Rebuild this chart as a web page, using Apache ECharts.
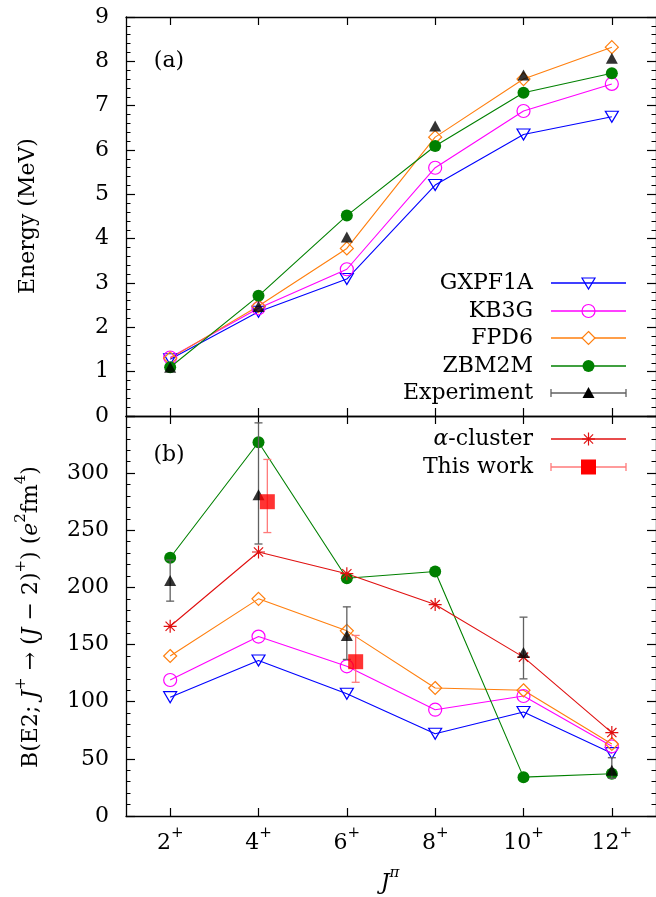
<!DOCTYPE html>
<html>
<head>
<meta charset="utf-8">
<script src="https://cdn.jsdelivr.net/npm/echarts@6/dist/echarts.min.js"></script>
<style>
  html, body { margin: 0; padding: 0; background: #fff; }
  #chart { width: 656px; height: 897px; }
</style>
</head>
<body>
<div id="chart"></div>
<script>
// Spin values J (x positions) and their tick labels
var spins = [2, 4, 6, 8, 10, 12];
var spinLabels = ['2', '4', '6', '8', '10', '12'];

// (a) excitation energies in MeV
var energyGXPF1A = [1.28, 2.35, 3.09, 5.21, 6.35, 6.75];
var energyKB3G   = [1.32, 2.43, 3.31, 5.60, 6.88, 7.49];
var energyFPD6   = [1.30, 2.48, 3.78, 6.29, 7.60, 8.32];
var energyZBM2M  = [1.10, 2.71, 4.52, 6.09, 7.29, 7.73];
var energyExp    = [1.10, 2.47, 4.04, 6.54, 7.69, 8.07];

// (b) B(E2) values in e^2 fm^4
var be2GXPF1A = [104, 136, 107, 72, 91, 55];
var be2KB3G   = [119, 157, 131, 93, 105, 61];
var be2FPD6   = [140, 190, 162, 112, 110, 63];
var be2ZBM2M  = [226, 327, 208, 214, 34, 37];
var be2Alpha  = [166, 231, 212, 185, 139, 73];

// measured B(E2) with error ranges
var expSpins = [2, 4, 6, 10, 12];
var be2Exp     = [206, 281, 158, 143, 40];
var be2ExpLow  = [188, 238, 137, 120, 33];
var be2ExpHigh = [224, 344, 183, 174, 51];

// present results (drawn slightly to the right of their spin)
var workSpins = [4.2, 6.2];
var be2Work     = [275, 135];
var be2WorkLow  = [248, 117];
var be2WorkHigh = [312, 158];

var FONT = 'DejaVu Serif';
var FS = 22;
var C_BLUE = '#0000ff', C_MAG = '#ff00ff', C_ORG = '#ff7f0e', C_GRN = '#008000';
var C_RED = '#e01010', C_WORK = '#ff0000', C_WORKBAR = '#ff7a7a', C_EXPBAR = '#606060';

var STAR = 'path://M0,-1L0,1M-1,0L1,0M-0.71,-0.71L0.71,0.71M-0.71,0.71L0.71,-0.71';

function pairs(xs, ys) { return xs.map(function (x, i) { return [x, ys[i]]; }); }
function errData(xs, v, lo, hi) { return xs.map(function (x, i) { return [x, v[i], lo[i], hi[i]]; }); }

function errorBars(color, xi, yi, data) {
  return {
    type: 'custom', xAxisIndex: xi, yAxisIndex: yi, data: data, z: 3,
    renderItem: function (params, api) {
      var x = api.value(0);
      var top = api.coord([x, api.value(3)]);
      var bot = api.coord([x, api.value(2)]);
      var st = { stroke: color, lineWidth: 1.3 };
      var c = 4;
      return {
        type: 'group', children: [
          { type: 'line', shape: { x1: top[0], y1: top[1], x2: bot[0], y2: bot[1] }, style: st },
          { type: 'line', shape: { x1: top[0] - c, y1: top[1], x2: top[0] + c, y2: top[1] }, style: st },
          { type: 'line', shape: { x1: bot[0] - c, y1: bot[1], x2: bot[0] + c, y2: bot[1] }, style: st }
        ]
      };
    }
  };
}

function lineSeries(name, xi, yi, ys, color, symbol, size, filled, rotate) {
  return {
    name: name, type: 'line', xAxisIndex: xi, yAxisIndex: yi,
    data: pairs(spins, ys), symbol: symbol, symbolSize: size, symbolRotate: rotate || 0,
    showAllSymbol: true, z: 2,
    lineStyle: { color: color, width: 1.1 },
    itemStyle: filled ? { color: color, borderWidth: 0 } :
      { color: 'rgba(255,255,255,0)', borderColor: color, borderWidth: 1.2 },
    emphasis: { disabled: true }
  };
}

function xAxisDef(grid, pos, labels) {
  return {
    type: 'value', gridIndex: grid, position: pos, min: 1, max: 13,
    axisLine: { show: true, onZero: false, lineStyle: { color: '#000', width: 1.3 } },
    axisTick: { show: true, inside: true, length: 8, customValues: spins, lineStyle: { color: '#000', width: 1.2 } },
    axisLabel: labels ? {
      show: true, margin: 10, customValues: spins,
      formatter: function (v) { return '{n|' + spinLabels[spins.indexOf(v)] + '}{s|+}'; },
      rich: {
        n: { fontFamily: FONT, fontSize: FS, color: '#000', lineHeight: 28, verticalAlign: 'bottom' },
        s: { fontFamily: FONT, fontSize: 15, color: '#000', lineHeight: 15, verticalAlign: 'top' }
      }
    } : { show: false },
    splitLine: { show: false }
  };
}

function yAxisDef(grid, pos, min, max, interval, labels) {
  return {
    type: 'value', gridIndex: grid, position: pos, min: min, max: max, interval: interval,
    axisLine: { show: true, onZero: false, lineStyle: { color: '#000', width: 1.3 } },
    axisTick: { show: true, inside: true, length: 9, lineStyle: { color: '#000', width: 1.2 } },
    minorTick: { show: true, splitNumber: 5, length: 4.5, lineStyle: { color: '#000', width: 1 } },
    axisLabel: labels ? { show: true, margin: 17, showMaxLabel: grid === 0, fontFamily: FONT, fontSize: FS, color: '#000' } : { show: false },
    splitLine: { show: false }, minorSplitLine: { show: false }
  };
}

// Legend keys drawn as graphics
var legendRows = [
  { text: 'GXPF1A', y: 283, color: C_BLUE, mark: 'dtri' },
  { text: 'KB3G', y: 311, color: C_MAG, mark: 'circle' },
  { text: 'FPD6', y: 338, color: C_ORG, mark: 'diamond' },
  { text: 'ZBM2M', y: 366, color: C_GRN, mark: 'dot' },
  { text: 'Experiment', y: 393, color: C_EXPBAR, mark: 'utri', bar: true },
  { text: '{i|α}-cluster', y: 439, color: C_RED, mark: 'star' },
  { text: 'This work', y: 467, color: C_WORKBAR, mark: 'square', bar: true }
];
var LX0 = 551, LX1 = 626, LXM = 588.5, LTX = 533;

function legendMark(row) {
  var x = LXM, y = row.y, out = [];
  if (row.mark === 'dtri') out.push({ type: 'polygon', shape: { points: [[x - 6.5, y - 5], [x + 6.5, y - 5], [x, y + 6]] }, style: { fill: null, stroke: C_BLUE, lineWidth: 1.2 } });
  if (row.mark === 'circle') out.push({ type: 'circle', shape: { cx: x, cy: y, r: 6.5 }, style: { fill: null, stroke: C_MAG, lineWidth: 1.2 } });
  if (row.mark === 'diamond') out.push({ type: 'polygon', shape: { points: [[x, y - 6.5], [x + 6.5, y], [x, y + 6.5], [x - 6.5, y]] }, style: { fill: '#fff', stroke: C_ORG, lineWidth: 1.2 } });
  if (row.mark === 'dot') out.push({ type: 'circle', shape: { cx: x, cy: y, r: 6 }, style: { fill: C_GRN } });
  if (row.mark === 'utri') out.push({ type: 'polygon', shape: { points: [[x - 6, y + 5], [x + 6, y + 5], [x, y - 6]] }, style: { fill: '#000' } });
  if (row.mark === 'star') {
    var s = 6.5, d = 4.6, st = { stroke: C_RED, lineWidth: 1.2 };
    out.push({ type: 'line', shape: { x1: x, y1: y - s, x2: x, y2: y + s }, style: st });
    out.push({ type: 'line', shape: { x1: x - s, y1: y, x2: x + s, y2: y }, style: st });
    out.push({ type: 'line', shape: { x1: x - d, y1: y - d, x2: x + d, y2: y + d }, style: st });
    out.push({ type: 'line', shape: { x1: x - d, y1: y + d, x2: x + d, y2: y - d }, style: st });
  }
  if (row.mark === 'square') out.push({ type: 'rect', shape: { x: x - 7.5, y: y - 7.5, width: 15, height: 15 }, style: { fill: C_WORK } });
  return out;
}

var graphics = [];
legendRows.forEach(function (row) {
  graphics.push({
    type: 'text', x: LTX, y: row.y,
    style: {
      text: row.text, fontFamily: FONT, fontSize: FS, fill: '#000', align: 'right', verticalAlign: 'middle',
      rich: { i: { fontFamily: FONT, fontSize: FS, fontStyle: 'italic', fill: '#000' } }
    }
  });
  var ls = { stroke: row.color, lineWidth: 1.3 };
  graphics.push({ type: 'line', shape: { x1: LX0, y1: row.y, x2: LX1, y2: row.y }, style: ls });
  if (row.bar) {
    graphics.push({ type: 'line', shape: { x1: LX0, y1: row.y - 4, x2: LX0, y2: row.y + 4 }, style: ls });
    graphics.push({ type: 'line', shape: { x1: LX1, y1: row.y - 4, x2: LX1, y2: row.y + 4 }, style: ls });
  }
  graphics = graphics.concat(legendMark(row));
});

// panel tags
graphics.push({ type: 'text', x: 169, y: 61, style: { text: '(a)', fontFamily: FONT, fontSize: FS, fill: '#000', align: 'center', verticalAlign: 'middle' } });
graphics.push({ type: 'text', x: 169, y: 455, style: { text: '(b)', fontFamily: FONT, fontSize: FS, fill: '#000', align: 'center', verticalAlign: 'middle' } });

// axis titles
graphics.push({ type: 'text', x: 28, y: 216, rotation: Math.PI / 2,
  style: { text: 'Energy (MeV)', fontFamily: FONT, fontSize: FS, fill: '#000', align: 'center', verticalAlign: 'middle' } });
graphics.push({ type: 'text', x: 28, y: 617, rotation: Math.PI / 2,
  style: {
    text: '{r|B(E2; }{i|J}{s|+}{r| → (}{i|J}{r| − 2)}{s|+}{r|) (}{i|e}{s|2}{r|fm}{s|4}{r|)}',
    align: 'center', verticalAlign: 'middle',
    rich: {
      r: { fontFamily: FONT, fontSize: FS, fill: '#000', lineHeight: 28, verticalAlign: 'bottom' },
      i: { fontFamily: FONT, fontSize: FS, fontStyle: 'italic', fill: '#000', lineHeight: 28, verticalAlign: 'bottom' },
      s: { fontFamily: FONT, fontSize: 15, fill: '#000', lineHeight: 15, verticalAlign: 'top' }
    }
  } });
graphics.push({ type: 'text', x: 390, y: 880,
  style: {
    text: '{i|J}{s|π}', align: 'center', verticalAlign: 'middle',
    rich: {
      i: { fontFamily: FONT, fontSize: FS, fontStyle: 'italic', fill: '#000', lineHeight: 28, verticalAlign: 'bottom' },
      s: { fontFamily: FONT, fontSize: 15, fontStyle: 'italic', fill: '#000', lineHeight: 15, verticalAlign: 'top' }
    }
  } });

var option = {
  animation: false,
  backgroundColor: '#fff',
  grid: [
    { left: 126, top: 17, width: 532.5, height: 399 },
    { left: 126, top: 416, width: 532.5, height: 400 }
  ],
  xAxis: [
    xAxisDef(0, 'bottom', false),
    xAxisDef(0, 'top', false),
    xAxisDef(1, 'bottom', true),
    xAxisDef(1, 'top', false)
  ],
  yAxis: [
    yAxisDef(0, 'left', 0, 9, 1, true),
    yAxisDef(0, 'right', 0, 9, 1, false),
    yAxisDef(1, 'left', 0, 350, 50, true),
    yAxisDef(1, 'right', 0, 350, 50, false)
  ],
  graphic: graphics,
  series: [
    lineSeries('GXPF1A', 0, 0, energyGXPF1A, C_BLUE, 'triangle', [13, 11], false, 180),
    lineSeries('KB3G', 0, 0, energyKB3G, C_MAG, 'circle', 13, false),
    lineSeries('FPD6', 0, 0, energyFPD6, C_ORG, 'diamond', [13, 13], false),
    lineSeries('ZBM2M', 0, 0, energyZBM2M, C_GRN, 'circle', 12, true),
    { name: 'Experiment', type: 'scatter', xAxisIndex: 0, yAxisIndex: 0, data: pairs(spins, energyExp),
      symbol: 'triangle', symbolSize: [12, 11], itemStyle: { color: '#000' }, z: 4 },

    lineSeries('GXPF1A', 2, 2, be2GXPF1A, C_BLUE, 'triangle', [13, 11], false, 180),
    lineSeries('KB3G', 2, 2, be2KB3G, C_MAG, 'circle', 13, false),
    lineSeries('FPD6', 2, 2, be2FPD6, C_ORG, 'diamond', [13, 13], false),
    lineSeries('ZBM2M', 2, 2, be2ZBM2M, C_GRN, 'circle', 12, true),
    lineSeries('α-cluster', 2, 2, be2Alpha, C_RED, STAR, 13, false),
    errorBars(C_EXPBAR, 2, 2, errData(expSpins, be2Exp, be2ExpLow, be2ExpHigh)),
    { name: 'Experiment', type: 'scatter', xAxisIndex: 2, yAxisIndex: 2, data: pairs(expSpins, be2Exp),
      symbol: 'triangle', symbolSize: [12, 11], itemStyle: { color: '#000' }, z: 4 },
    errorBars(C_WORKBAR, 2, 2, errData(workSpins, be2Work, be2WorkLow, be2WorkHigh)),
    { name: 'This work', type: 'scatter', xAxisIndex: 2, yAxisIndex: 2, data: pairs(workSpins, be2Work),
      symbol: 'rect', symbolSize: 15, itemStyle: { color: C_WORK }, z: 5 }
  ]
};

var chart = echarts.init(document.getElementById('chart'), null, { renderer: 'canvas' });
chart.setOption(option);
</script>
</body>
</html>
